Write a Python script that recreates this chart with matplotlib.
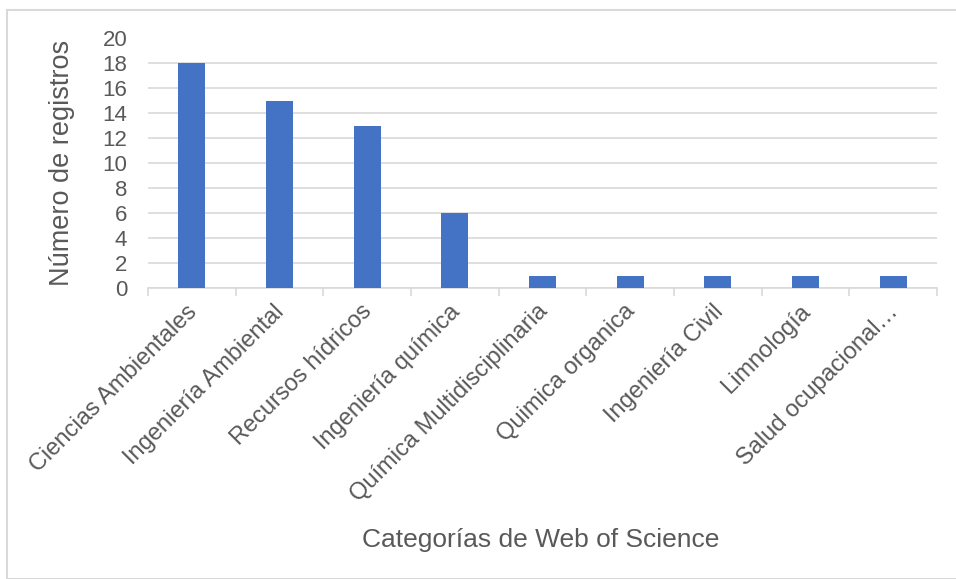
import matplotlib.pyplot as plt
import matplotlib.transforms as mtransforms
from matplotlib.patches import Rectangle

# Datos del gráfico
categorias = [
    "Ciencias Ambientales",
    "Ingeniería Ambiental",
    "Recursos hídricos",
    "Ingeniería química",
    "Química Multidisciplinaria",
    "Quimica organica",
    "Ingeniería Civil",
    "Limnología",
    "Salud ocupacional…",
]
registros = [18, 15, 13, 6, 1, 1, 1, 1, 1]

gris = "#595959"
plt.rcParams["font.family"] = ["Liberation Sans", "DejaVu Sans"]

fig = plt.figure(figsize=(9.56, 5.79), dpi=100)
fig.patches.append(
    Rectangle((7 / 956, 0), 1.0, 1 - 10 / 579, transform=fig.transFigure,
              fill=False, edgecolor="#d9d9d9", linewidth=1.5)
)
ax = fig.add_axes([148 / 956, 1 - 288 / 579, (937 - 148) / 956, (288 - 38.5) / 579])

x = range(len(categorias))
ax.bar(x, registros, width=0.31, color="#4472C4", zorder=3)

ax.set_xlim(-0.5, len(categorias) - 0.5)
ax.set_ylim(0, 20)
ax.set_yticks(range(0, 21, 2))
ax.grid(axis="y", color="#d9d9d9", linewidth=1.2, zorder=0)

for s in ["top", "right", "left"]:
    ax.spines[s].set_visible(False)
ax.spines["bottom"].set_color("#d9d9d9")
ax.spines["bottom"].set_linewidth(1.2)

ax.set_xticks([i - 0.5 for i in range(len(categorias) + 1)], minor=False)
ax.set_xticklabels([])
ax.tick_params(axis="x", which="major", length=6, color="#d9d9d9", width=1.2)
ax.set_xticks(list(x), minor=True)
ax.set_xticklabels(categorias, minor=True, rotation=45, ha="right",
                   rotation_mode="anchor", fontsize=17, color=gris)
ax.tick_params(axis="x", which="minor", length=0, pad=9)
desplazar = mtransforms.ScaledTranslation(-6 / 100, 0, fig.dpi_scale_trans)
for lbl in ax.get_xticklabels(minor=True):
    lbl.set_transform(lbl.get_transform() + desplazar)
ax.tick_params(axis="y", length=0, labelsize=16, labelcolor=gris, pad=15)

ax.set_ylabel("Número de registros", fontsize=19.5, color=gris, labelpad=20)
fig.text(541 / 956, 1 - 540 / 579, "Categorías de Web of Science",
         ha="center", va="center", fontsize=19, color=gris)

fig.savefig("out.png", dpi=100)
